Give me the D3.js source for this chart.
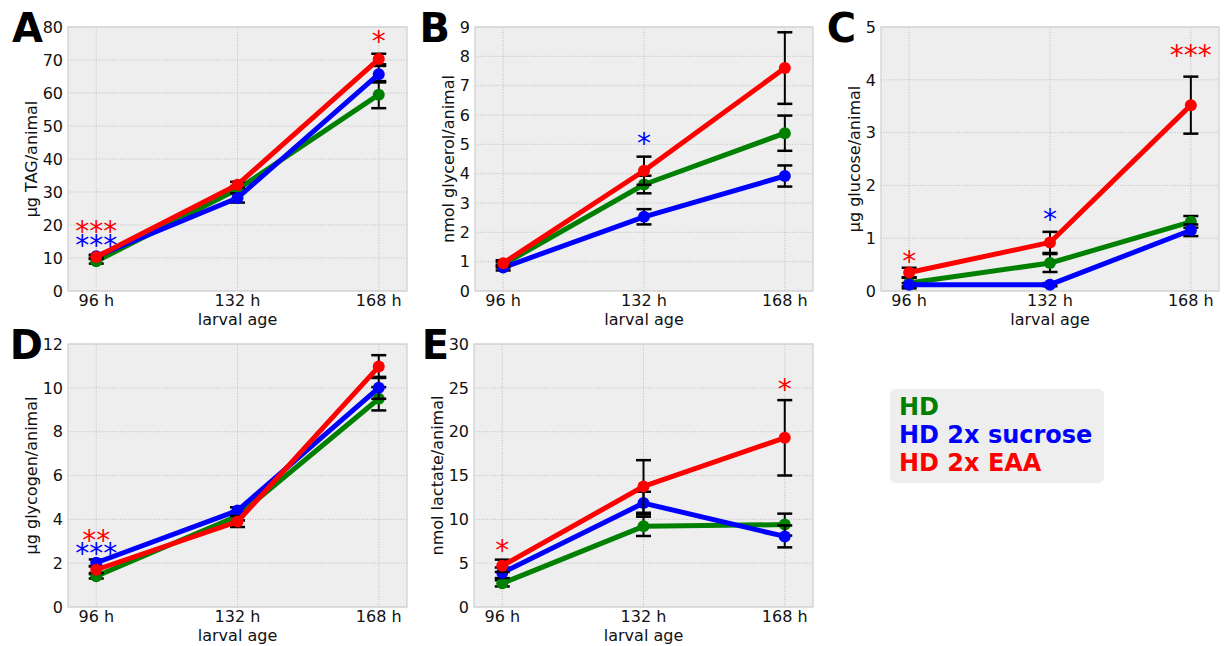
<!DOCTYPE html>
<html>
<head>
<meta charset="utf-8">
<script src="https://cdn.jsdelivr.net/npm/d3@7"></script>
<style>
  html, body { margin: 0; padding: 0; background: #fff; }
  svg { display: block; font-family: 'DejaVu Sans', sans-serif; }
</style>
</head>
<body>
<div id="chart"></div>
<script>
// ── Data ──
var AGES = ['96 h', '132 h', '168 h'];
var GROUPS = ['HD', 'HD 2x sucrose', 'HD 2x EAA'];

// means / errors, one row per group (HD, sucrose, EAA)
var TAG_MEAN = [[9.0, 30.8, 59.5], [10.5, 28.2, 65.7], [10.3, 32.2, 70.3]];
var TAG_ERR = [[0.7, 1.0, 4.1], [0.5, 1.4, 2.5], [0.5, 0.9, 1.6]];
var GLYCEROL_MEAN = [[0.9, 3.63, 5.38], [0.8, 2.53, 3.92], [0.95, 4.1, 7.6]];
var GLYCEROL_ERR = [[0.1, 0.3, 0.6], [0.1, 0.26, 0.36], [0.1, 0.48, 1.22]];
var GLUCOSE_MEAN = [[0.15, 0.53, 1.31], [0.12, 0.12, 1.15], [0.35, 0.92, 3.52]];
var GLUCOSE_ERR = [[0.1, 0.17, 0.11], [0.03, 0.03, 0.11], [0.09, 0.2, 0.54]];
var GLYCOGEN_MEAN = [[1.4, 4.15, 9.5], [2.02, 4.4, 10.0], [1.7, 3.9, 10.97]];
var GLYCOGEN_ERR = [[0.1, 0.2, 0.53], [0.15, 0.15, 0.5], [0.15, 0.25, 0.52]];
var LACTATE_MEAN = [[2.7, 9.2, 9.4], [3.9, 11.85, 8.05], [4.7, 13.75, 19.3]];
var LACTATE_ERR = [[0.35, 1.1, 1.25], [0.6, 1.3, 1.25], [0.7, 3.0, 4.3]];

// significance marks: [age index, group index, label, level]
var TAG_STARS = [[0, 2, '***', 19.7], [0, 1, '***', 15.6], [2, 2, '*', 77.4]];
var GLYCEROL_STARS = [[1, 1, '*', 5.2]];
var GLUCOSE_STARS = [[0, 2, '*', 0.66], [1, 1, '*', 1.45], [2, 2, '***', 4.57]];
var GLYCOGEN_STARS = [[0, 2, '**', 3.3], [0, 1, '***', 2.69]];
var LACTATE_STARS = [[0, 2, '*', 7.1], [2, 2, '*', 25.4]];

var COLORS = ['#008000', '#0000ff', '#ff0000'];

// ── Layout ──
var W = 1230, H = 646;
var PANELS = [
  { letter: 'A', ylab: 'µg TAG/animal', ymax: 80, step: 10, mean: TAG_MEAN, err: TAG_ERR, stars: TAG_STARS,
    box: [68, 27, 407, 291] },
  { letter: 'B', ylab: 'nmol glycerol/animal', ymax: 9, step: 1, mean: GLYCEROL_MEAN, err: GLYCEROL_ERR, stars: GLYCEROL_STARS,
    box: [475, 27, 813, 291] },
  { letter: 'C', ylab: 'µg glucose/animal', ymax: 5, step: 1, mean: GLUCOSE_MEAN, err: GLUCOSE_ERR, stars: GLUCOSE_STARS,
    box: [881, 27, 1219, 291] },
  { letter: 'D', ylab: 'µg glycogen/animal', ymax: 12, step: 2, mean: GLYCOGEN_MEAN, err: GLYCOGEN_ERR, stars: GLYCOGEN_STARS,
    box: [68, 344, 407, 607] },
  { letter: 'E', ylab: 'nmol lactate/animal', ymax: 30, step: 5, mean: LACTATE_MEAN, err: LACTATE_ERR, stars: LACTATE_STARS,
    box: [474, 344, 813, 607] }
];

var svg = d3.select('#chart').append('svg')
  .attr('width', W).attr('height', H);

PANELS.forEach(function (p) {
  var x0 = p.box[0], y0 = p.box[1], x1 = p.box[2], y1 = p.box[3];
  var x = d3.scaleLinear().domain([-0.2, 2.2]).range([x0, x1]);
  var y = d3.scaleLinear().domain([0, p.ymax]).range([y1, y0]);
  var yTicks = d3.range(0, p.ymax + p.step / 2, p.step);

  var g = svg.append('g');

  // background
  g.append('rect')
    .attr('x', x0).attr('y', y0)
    .attr('width', x1 - x0).attr('height', y1 - y0)
    .attr('fill', '#eeeeee');

  // grid
  g.append('g').selectAll('line.gy')
    .data(yTicks).join('line')
    .attr('x1', x0).attr('x2', x1)
    .attr('y1', function (d) { return y(d); })
    .attr('y2', function (d) { return y(d); })
    .attr('stroke', '#b2b2b2').attr('stroke-width', 0.8)
    .attr('stroke-dasharray', '1,1.6');
  g.append('g').selectAll('line.gx')
    .data([0, 1, 2]).join('line')
    .attr('y1', y0).attr('y2', y1)
    .attr('x1', function (d) { return x(d); })
    .attr('x2', function (d) { return x(d); })
    .attr('stroke', '#b2b2b2').attr('stroke-width', 0.8)
    .attr('stroke-dasharray', '1,1.6');

  // frame
  g.append('rect')
    .attr('x', x0).attr('y', y0)
    .attr('width', x1 - x0).attr('height', y1 - y0)
    .attr('fill', 'none').attr('stroke', '#cfcfcf').attr('stroke-width', 1.2);

  // y tick labels
  var yl = g.append('g').selectAll('text')
    .data(yTicks).join('text')
    .attr('x', x0 - 5)
    .attr('y', function (d) { return y(d); })
    .attr('dy', '0.36em')
    .attr('text-anchor', 'end')
    .attr('font-size', 16)
    .attr('fill', '#111')
    .text(function (d) { return d; });

  var minLeft = x0;
  yl.each(function () { minLeft = Math.min(minLeft, this.getBBox().x); });

  // x tick labels
  g.append('g').selectAll('text')
    .data(AGES).join('text')
    .attr('x', function (d, i) { return x(i); })
    .attr('y', y1 + 15)
    .attr('text-anchor', 'middle')
    .attr('font-size', 16)
    .attr('fill', '#111')
    .text(function (d) { return d; });

  // axis labels
  g.append('text')
    .attr('x', (x0 + x1) / 2).attr('y', y1 + 34)
    .attr('text-anchor', 'middle')
    .attr('font-size', 16).attr('fill', '#111')
    .text('larval age');

  g.append('text')
    .attr('transform', 'translate(' + (minLeft - 6) + ',' + ((y0 + y1) / 2) + ') rotate(-90)')
    .attr('text-anchor', 'middle')
    .attr('font-size', 16).attr('fill', '#111')
    .text(p.ylab);

  // panel letter
  g.append('text')
    .attr('x', x0 - 25).attr('y', y0 + 15)
    .attr('text-anchor', 'end')
    .attr('font-size', 40).attr('font-weight', 'bold')
    .attr('fill', '#000')
    .text(p.letter);

  // series
  var line = d3.line()
    .x(function (d, i) { return x(i); })
    .y(function (d) { return y(d); });

  GROUPS.forEach(function (name, gi) {
    var mean = p.mean[gi], err = p.err[gi];
    var eb = g.append('g').attr('stroke', '#000');
    mean.forEach(function (m, i) {
      var cx = x(i), lo = y(m - err[i]), hi = y(m + err[i]);
      eb.append('line').attr('x1', cx).attr('x2', cx).attr('y1', lo).attr('y2', hi).attr('stroke-width', 2);
      eb.append('line').attr('x1', cx - 7.5).attr('x2', cx + 7.5).attr('y1', lo).attr('y2', lo).attr('stroke-width', 2.5);
      eb.append('line').attr('x1', cx - 7.5).attr('x2', cx + 7.5).attr('y1', hi).attr('y2', hi).attr('stroke-width', 2.5);
    });
    g.append('path')
      .datum(mean)
      .attr('d', line)
      .attr('fill', 'none')
      .attr('stroke', COLORS[gi])
      .attr('stroke-width', 5)
      .attr('stroke-linejoin', 'round');
    g.append('g').selectAll('circle')
      .data(mean).join('circle')
      .attr('cx', function (d, i) { return x(i); })
      .attr('cy', function (d) { return y(d); })
      .attr('r', 6)
      .attr('fill', COLORS[gi]);
  });

  // significance stars: marks at the same age share one stacked text
  var byAge = d3.groups(p.stars, function (d) { return d[0]; });
  byAge.forEach(function (entry) {
    var t = g.append('text')
      .attr('text-anchor', 'middle')
      .attr('font-size', 28);
    entry[1].forEach(function (d) {
      t.append('tspan')
        .attr('x', x(d[0]))
        .attr('y', y(d[3]) + 15)
        .attr('fill', COLORS[d[1]])
        .text(d[2]);
    });
  });
});

// ── Legend ──
var lg = svg.append('g');
lg.append('rect')
  .attr('x', 890).attr('y', 389)
  .attr('width', 214).attr('height', 94)
  .attr('rx', 6)
  .attr('fill', '#eeeeee');
lg.selectAll('text')
  .data(GROUPS).join('text')
  .attr('x', 899)
  .attr('y', function (d, i) { return 415 + i * 28; })
  .attr('font-size', 24)
  .attr('font-weight', 'bold')
  .attr('fill', function (d, i) { return COLORS[i]; })
  .text(function (d) { return d; });
</script>
</body>
</html>
